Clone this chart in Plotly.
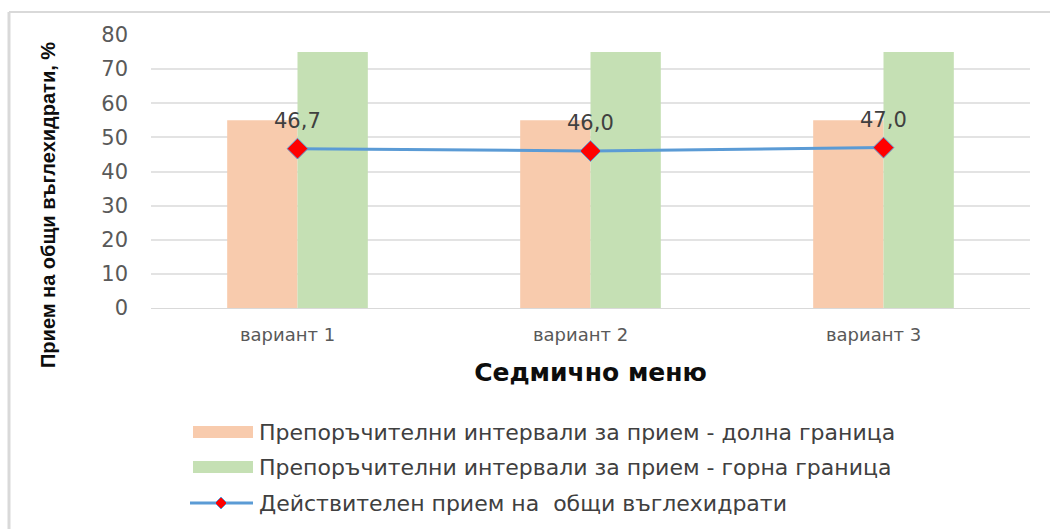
import plotly.graph_objects as go

categories = ["вариант 1", "вариант 2", "вариант 3"]
lower_bound = [55, 55, 55]
upper_bound = [75, 75, 75]
actual_intake = [46.7, 46.0, 47.0]
y_ticks = [0, 10, 20, 30, 40, 50, 60, 70, 80]

series_names = [
    "Препоръчителни интервали за прием - долна граница",
    "Препоръчителни интервали за прием - горна граница",
    "Действителен прием на  общи въглехидрати",
]

ORANGE = "#f8cbad"
GREEN = "#c5e0b4"
BLUE = "#5b9bd5"
RED = "#ff0000"
TEXT = "#595959"
FONT = "DejaVu Sans"

W, H = 1050, 529
L, R, T, B = 151, 20, 35, 221
PW, PH = W - L - R, H - T - B


def px(x):
    return (x - L) / PW


def py(y):
    return (H - B - y) / PH


fig = go.Figure()
fig.add_trace(go.Bar(x=categories, y=lower_bound, name=series_names[0],
                     marker=dict(color=ORANGE, line=dict(width=0)), showlegend=False))
fig.add_trace(go.Bar(x=categories, y=upper_bound, name=series_names[1],
                     marker=dict(color=GREEN, line=dict(width=0)), showlegend=False))
fig.add_trace(go.Scatter(x=categories, y=actual_intake, name=series_names[2],
                         mode="lines+markers",
                         line=dict(color=BLUE, width=3),
                         marker=dict(symbol="diamond", size=16, color=RED,
                                     line=dict(color=BLUE, width=1)),
                         showlegend=False))

# value labels above the line points
for c, v in zip(categories, actual_intake):
    fig.add_annotation(x=c, y=v, text=f"{v:.1f}".replace(".", ","),
                       showarrow=False, yshift=28,
                       font=dict(family=FONT, size=21, color="#404040"))

# legend drawn below the axis title
shapes = []
rows = [432, 467, 503]
for row, col in zip(rows[:2], [ORANGE, GREEN]):
    shapes.append(dict(type="rect", xref="paper", yref="paper",
                       x0=px(193), x1=px(253), y0=py(row - 6), y1=py(row + 6),
                       fillcolor=col, line=dict(width=0)))
shapes.append(dict(type="line", xref="paper", yref="paper",
                   x0=px(190), x1=px(253), y0=py(rows[2]), y1=py(rows[2]),
                   line=dict(color=BLUE, width=3)))
cx, cy = 221, rows[2]
shapes.append(dict(type="path", xref="paper", yref="paper",
                   path=(f"M{px(cx - 6)},{py(cy)} L{px(cx)},{py(cy - 6)} "
                         f"L{px(cx + 6)},{py(cy)} L{px(cx)},{py(cy + 6)} Z"),
                   fillcolor=RED, line=dict(color=BLUE, width=1)))
for i, row in enumerate(rows):
    fig.add_annotation(xref="paper", yref="paper", x=px(257), y=py(row),
                       xanchor="left", yanchor="middle", showarrow=False,
                       text=series_names[i],
                       font=dict(family=FONT, size=22, color="#404040"))

# y axis title, placed beside the tick labels
fig.add_annotation(xref="paper", yref="paper", x=px(48), y=py(205),
                   xanchor="center", yanchor="middle", showarrow=False,
                   textangle=-90, text="<b>Прием на общи въглехидрати, %</b>",
                   font=dict(family="Liberation Sans", size=20, color="#0d0d0d"))

# chart frame (top and left edges)
shapes.append(dict(type="line", xref="paper", yref="paper",
                   x0=px(9), x1=px(1050), y0=py(12), y1=py(12),
                   line=dict(color="#d9d9d9", width=2)))
shapes.append(dict(type="line", xref="paper", yref="paper",
                   x0=px(9), x1=px(9), y0=py(12), y1=py(529),
                   line=dict(color="#d9d9d9", width=3)))

fig.update_layout(
    width=W, height=H,
    margin=dict(l=L, r=R, t=T, b=B),
    paper_bgcolor="white", plot_bgcolor="white",
    barmode="group", bargap=0.52, bargroupgap=0,
    showlegend=False,
    shapes=shapes,
    font=dict(family=FONT, color=TEXT),
    xaxis=dict(tickfont=dict(family=FONT, size=18, color=TEXT),
               showgrid=False, showline=True, linecolor="#d9d9d9", linewidth=1,
               ticks="", ticklabelstandoff=10, ticklabelshift=-10,
               title=dict(text="<b>Седмично меню</b>", standoff=19,
                          font=dict(family=FONT, size=25, color="#0d0d0d"))),
    yaxis=dict(range=[0, 80], tickvals=y_ticks,
               tickfont=dict(family=FONT, size=21, color=TEXT),
               showgrid=True, gridcolor="#e3e3e3", gridwidth=1.5,
               zeroline=False, showline=False, ticks="", ticklabelstandoff=22),
)

fig.write_html("out.html")
